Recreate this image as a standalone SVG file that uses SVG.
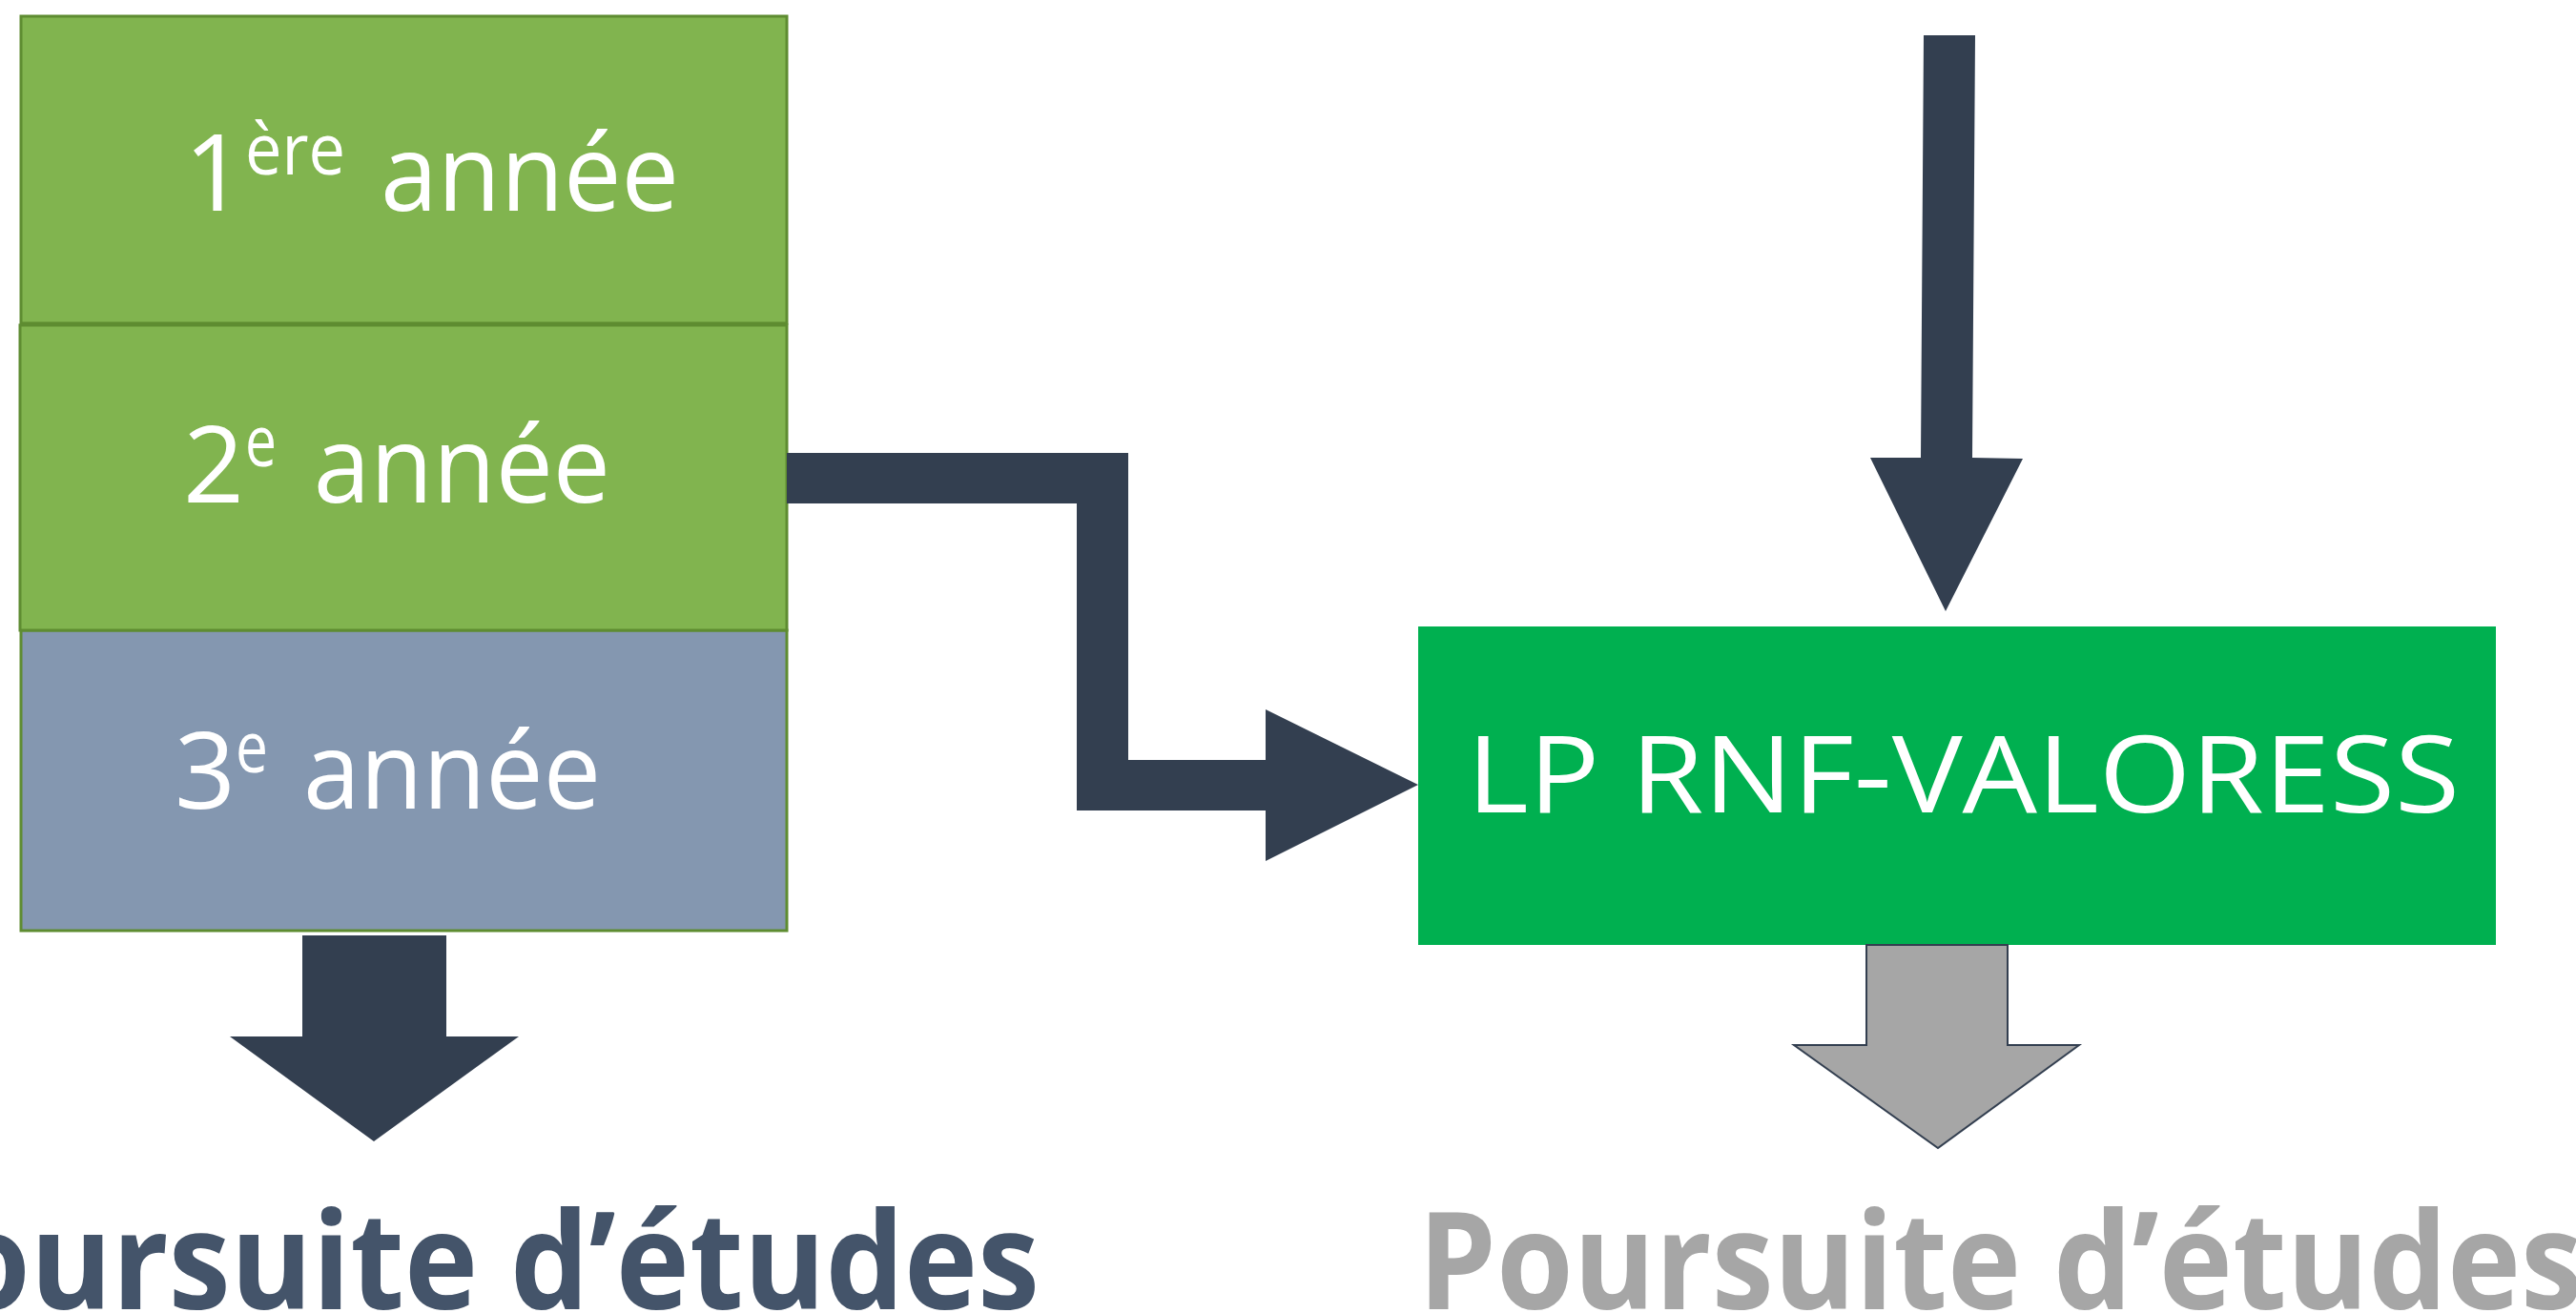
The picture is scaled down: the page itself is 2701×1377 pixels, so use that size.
<svg xmlns="http://www.w3.org/2000/svg" width="2701" height="1377" viewBox="0 0 2701 1377">
  <style>
    .green { fill: #81B44F; stroke: #5E8C31; stroke-width: 3; }
    .blue { fill: #8497B0; stroke: #5E8C31; stroke-width: 3; }
    .lp { fill: #00B050; }
    .lbl { font-family: "Open Sans", "Noto Sans", sans-serif; fill: #FFFFFF; font-size: 112px; }
    .sup { font-size: 75px; }
    .big { font-family: "Open Sans", "Noto Sans", sans-serif; font-weight: bold; font-size: 142px; }
    .dark { fill: #333F50; }
    .grey { fill: #A6A6A6; stroke: #333F50; stroke-width: 2; }
  </style>
  <rect width="2701" height="1377" fill="#FFFFFF"/>

  <g id="node-year1">
    <rect class="green" x="22" y="17" width="803" height="322"/>
    <text class="lbl"><tspan x="193" y="221">1</tspan><tspan class="sup" x="257" y="183" textLength="105" lengthAdjust="spacingAndGlyphs">ère</tspan><tspan x="371" y="221" textLength="341" lengthAdjust="spacingAndGlyphs"> année</tspan></text>
  </g>

  <g id="node-year3">
    <rect class="blue" x="22" y="661" width="803" height="315"/>
    <text class="lbl"><tspan x="183" y="848">3</tspan><tspan class="sup" x="247" y="810" textLength="34" lengthAdjust="spacingAndGlyphs">e</tspan><tspan x="290" y="848" textLength="340" lengthAdjust="spacingAndGlyphs"> année</tspan></text>
  </g>

  <g id="node-year2">
    <rect class="green" x="21" y="341" width="804" height="320"/>
    <text class="lbl"><tspan x="192" y="527">2</tspan><tspan class="sup" x="257" y="489" textLength="33" lengthAdjust="spacingAndGlyphs">e</tspan><tspan x="301" y="527" textLength="339" lengthAdjust="spacingAndGlyphs"> année</tspan></text>
  </g>

  <g id="node-lp">
    <rect class="lp" x="1487" y="657" width="1130" height="334"/>
    <text class="lbl" x="1538" y="852" font-size="129" textLength="1041" lengthAdjust="spacingAndGlyphs">LP RNF-VALORESS</text>
  </g>

  <g id="node-poursuite-left">
    <text class="big" x="-131" y="1373" fill="#44546A" textLength="1221" lengthAdjust="spacingAndGlyphs">Poursuite d’études</text>
  </g>

  <g id="node-poursuite-right">
    <text class="big" x="1487" y="1373" fill="#A6A6A6" textLength="1221" lengthAdjust="spacingAndGlyphs">Poursuite d’études</text>
  </g>

  <g id="connectors">
    <polygon class="dark" points="825,475 1183,475 1183,797 1327,797 1327,744 1487,823 1327,903 1327,850 1129,850 1129,528 825,528"/>
    <polygon class="dark" points="2017,37 2071,37 2068,480 2121,481 2040,641 1961,480 2014,480"/>
    <polygon class="dark" points="317,981 468,981 468,1087 544,1087 392,1197 241,1087 317,1087"/>
    <polygon class="grey" points="1957,991 2105,991 2105,1096 2180,1096 2032,1204 1881,1096 1957,1096"/>
  </g>
</svg>
